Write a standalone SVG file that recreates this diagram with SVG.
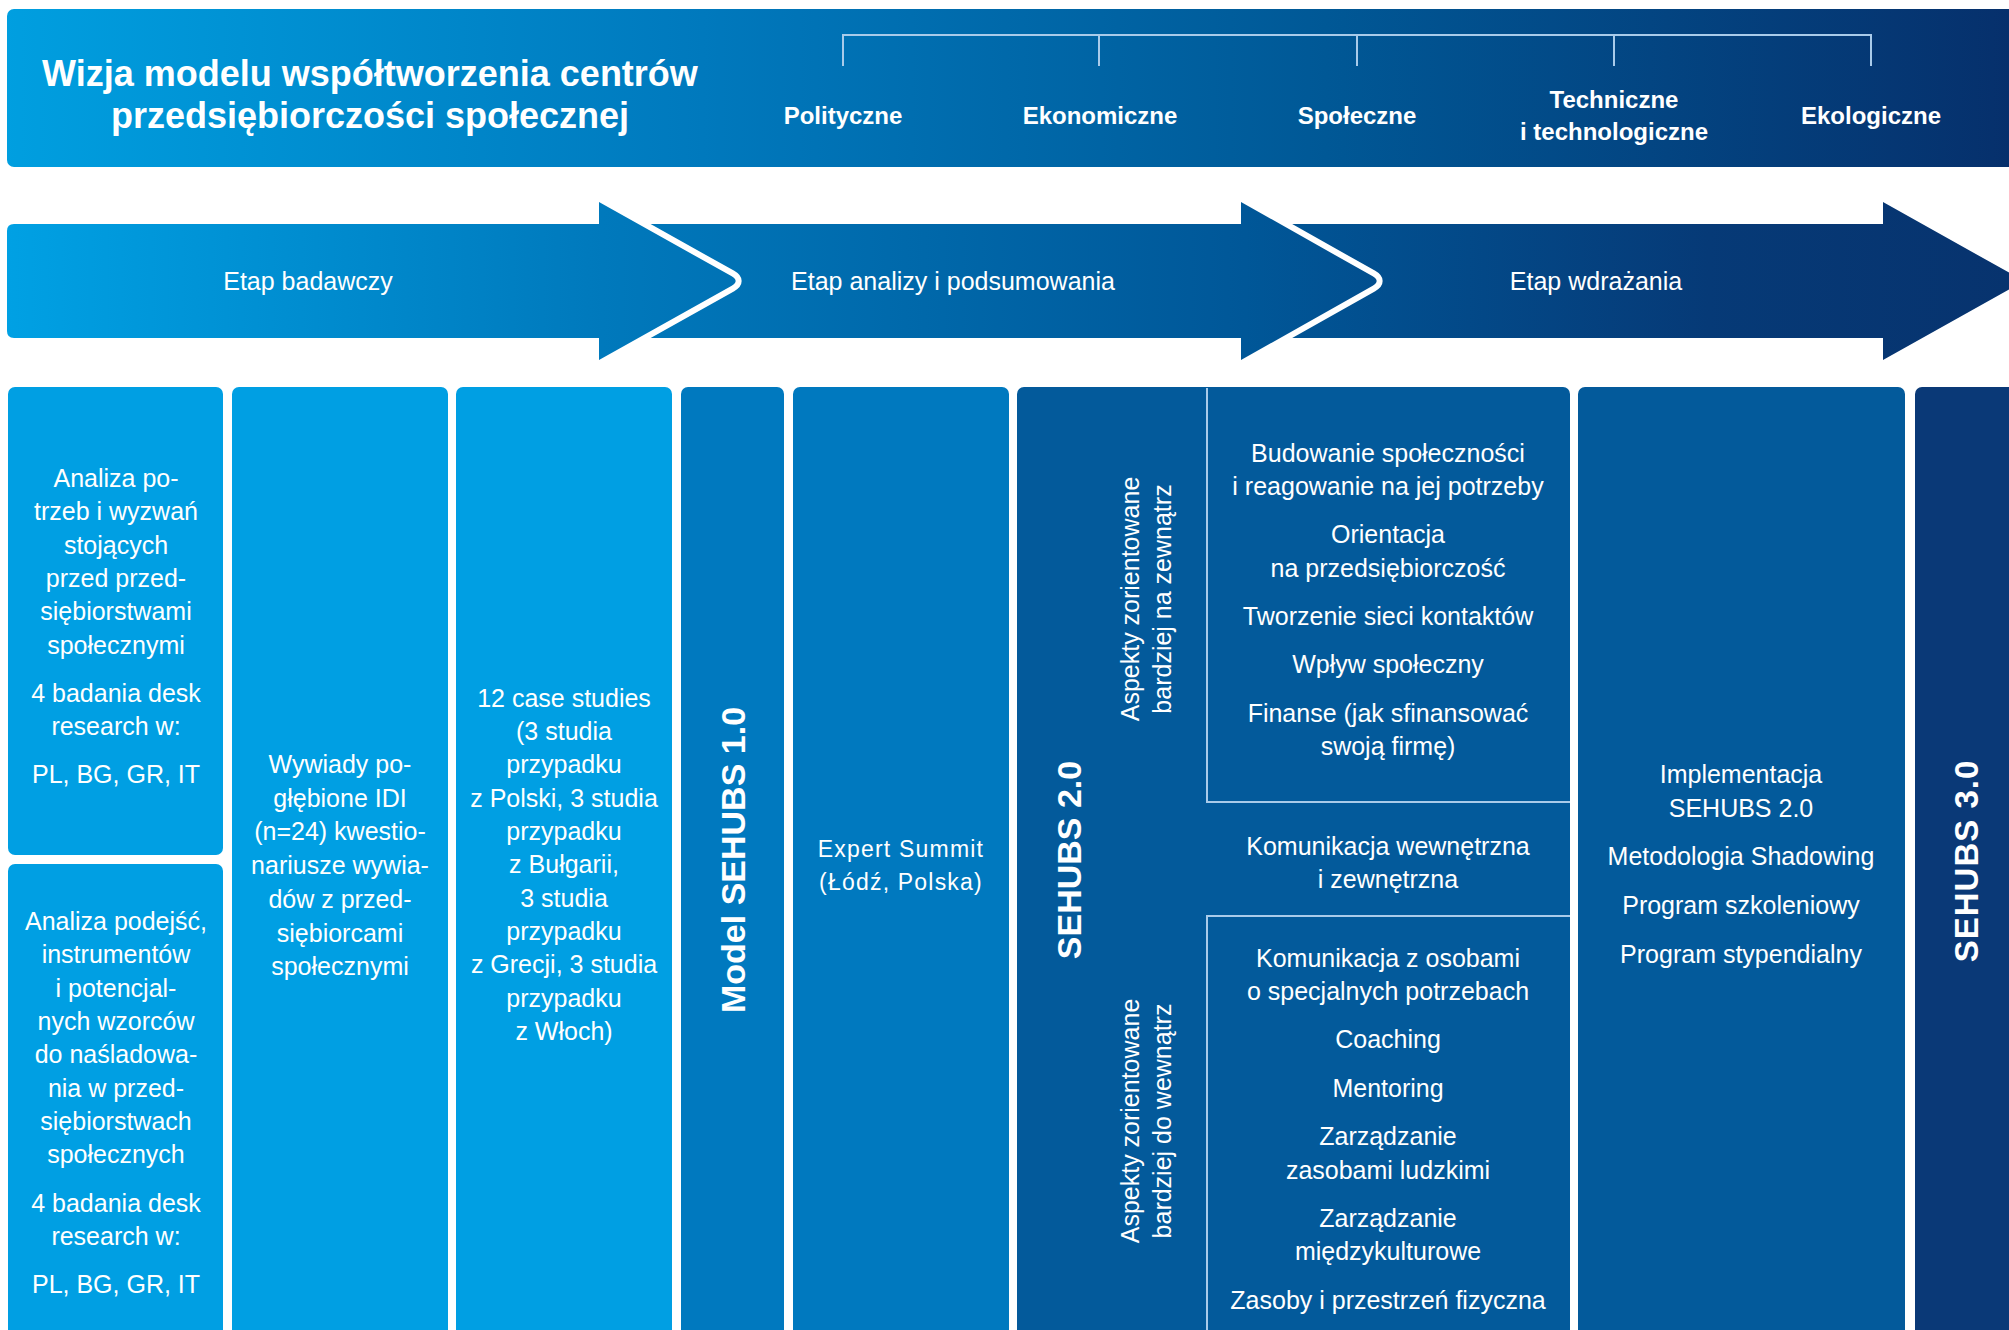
<svg xmlns="http://www.w3.org/2000/svg" width="2009" height="1330" viewBox="0 0 2009 1330">
<defs>
<linearGradient id="gHead" gradientUnits="userSpaceOnUse" x1="0" y1="0" x2="2009" y2="0">
<stop offset="0" stop-color="#009fe0"/>
<stop offset="0.35" stop-color="#0079bd"/>
<stop offset="0.66" stop-color="#005896"/>
<stop offset="1" stop-color="#06306c"/>
</linearGradient>
<linearGradient id="gArrow" gradientUnits="userSpaceOnUse" x1="0" y1="0" x2="2009" y2="0">
<stop offset="0" stop-color="#00a1e4"/>
<stop offset="0.3" stop-color="#0079bc"/>
<stop offset="0.62" stop-color="#005798"/>
<stop offset="0.85" stop-color="#063a77"/>
<stop offset="1" stop-color="#07336e"/>
</linearGradient>
<style>
text{fill:#fff;font-family:"Liberation Sans",Arial,sans-serif;}
.t{font-size:25px;text-anchor:middle;}
.h{font-size:24px;font-weight:bold;text-anchor:middle;}
.ttl{font-size:36px;font-weight:bold;text-anchor:middle;}
.v{font-size:34px;font-weight:bold;text-anchor:middle;}
.g{font-size:23px;letter-spacing:1.2px;text-anchor:middle;}
.g3{font-size:33px;font-weight:bold;letter-spacing:1px;text-anchor:middle;}
.light{fill:#009fe3;}
.mid{fill:#0079bf;}
.dark{fill:#035a9b;}
.navy{fill:#0a3977;}
.ln{stroke:#a9cbea;stroke-width:2;fill:none;}
.arrow{fill:url(#gArrow);}
.halo{fill:#fff;stroke:#fff;stroke-width:12;stroke-linejoin:round;}
</style>
</defs>

<g id="header">
<rect x="7" y="9" width="2030" height="158" rx="7" fill="url(#gHead)"/>
<text class="ttl" x="370" y="86">Wizja modelu współtworzenia centrów</text>
<text class="ttl" x="370" y="128">przedsiębiorczości społecznej</text>
</g>

<g id="factors">
<path class="ln" d="M843,66 V35 H1871 V66 M1099,35 V66 M1357,35 V66 M1614,35 V66"/>
<text class="h" x="843" y="124">Polityczne</text>
<text class="h" x="1100" y="124">Ekonomiczne</text>
<text class="h" x="1357" y="124">Społeczne</text>
<text class="h" x="1614" y="108">Techniczne</text>
<text class="h" x="1614" y="140">i technologiczne</text>
<text class="h" x="1871" y="124">Ekologiczne</text>
</g>

<g id="phase3">
<path class="arrow" d="M1260,224 H1883 V202 L2024,281 L1883,360 V338 H1260 Z"/>
<text class="t" x="1596" y="290">Etap wdrażania</text>
</g>
<g id="phase2">
<path class="halo" d="M620,224 H1241 V202 L1372.3,276.1 Q1381,281 1372.3,285.9 L1241,360 V338 H620 Z"/>
<path class="arrow" d="M620,224 H1241 V202 L1372.3,276.1 Q1381,281 1372.3,285.9 L1241,360 V338 H620 Z"/>
<text class="t" x="953" y="290">Etap analizy i podsumowania</text>
</g>
<g id="phase1">
<path class="halo" d="M14,224 H599 V202 L731.3,276.1 Q740,281 731.3,285.9 L599,360 V338 H14 Q7,338 7,331 V231 Q7,224 14,224 Z"/>
<path class="arrow" d="M14,224 H599 V202 L731.3,276.1 Q740,281 731.3,285.9 L599,360 V338 H14 Q7,338 7,331 V231 Q7,224 14,224 Z"/>
<text class="t" x="308" y="290">Etap badawczy</text>
</g>

<g id="col1a">
<rect class="light" x="8" y="387" width="215" height="468" rx="7"/>
<text class="t" x="116" y="487">Analiza po-</text>
<text class="t" x="116" y="520">trzeb i wyzwań</text>
<text class="t" x="116" y="554">stojących</text>
<text class="t" x="116" y="587">przed przed-</text>
<text class="t" x="116" y="620">siębiorstwami</text>
<text class="t" x="116" y="654">społecznymi</text>
<text class="t" x="116" y="702">4 badania desk</text>
<text class="t" x="116" y="735">research w:</text>
<text class="t" x="116" y="783">PL, BG, GR, IT</text>
</g>

<g id="col1b">
<rect class="light" x="8" y="864" width="215" height="490" rx="7"/>
<text class="t" x="116" y="930">Analiza podejść,</text>
<text class="t" x="116" y="963">instrumentów</text>
<text class="t" x="116" y="997">i potencjal-</text>
<text class="t" x="116" y="1030">nych wzorców</text>
<text class="t" x="116" y="1063">do naśladowa-</text>
<text class="t" x="116" y="1097">nia w przed-</text>
<text class="t" x="116" y="1130">siębiorstwach</text>
<text class="t" x="116" y="1163">społecznych</text>
<text class="t" x="116" y="1212">4 badania desk</text>
<text class="t" x="116" y="1245">research w:</text>
<text class="t" x="116" y="1293">PL, BG, GR, IT</text>
</g>

<g id="col2">
<rect class="light" x="232" y="387" width="216" height="970" rx="7"/>
<text class="t" x="340" y="773">Wywiady po-</text>
<text class="t" x="340" y="807">głębione IDI</text>
<text class="t" x="340" y="840">(n=24) kwestio-</text>
<text class="t" x="340" y="874">nariusze wywia-</text>
<text class="t" x="340" y="908">dów z przed-</text>
<text class="t" x="340" y="942">siębiorcami</text>
<text class="t" x="340" y="975">społecznymi</text>
</g>

<g id="col3">
<rect class="light" x="456" y="387" width="216" height="970" rx="7"/>
<text class="t" x="564" y="707">12 case studies</text>
<text class="t" x="564" y="740">(3 studia</text>
<text class="t" x="564" y="773">przypadku</text>
<text class="t" x="564" y="807">z Polski, 3 studia</text>
<text class="t" x="564" y="840">przypadku</text>
<text class="t" x="564" y="873">z Bułgarii,</text>
<text class="t" x="564" y="907">3 studia</text>
<text class="t" x="564" y="940">przypadku</text>
<text class="t" x="564" y="973">z Grecji, 3 studia</text>
<text class="t" x="564" y="1007">przypadku</text>
<text class="t" x="564" y="1040">z Włoch)</text>
</g>

<g id="col4">
<rect class="mid" x="681" y="387" width="103" height="970" rx="7"/>
<text class="v" transform="translate(745,860) rotate(-90)">Model SEHUBS 1.0</text>
</g>

<g id="col5">
<rect class="mid" x="793" y="387" width="216" height="970" rx="7"/>
<text class="g" x="901" y="857">Expert Summit</text>
<text class="g" x="901" y="890">(Łódź, Polska)</text>
</g>

<g id="col6">
<rect class="dark" x="1017" y="387" width="553" height="970" rx="7"/>
<text class="v" transform="translate(1081,860) rotate(-90)">SEHUBS 2.0</text>
<text class="t" transform="translate(1139,599) rotate(-90)">Aspekty zorientowane</text>
<text class="t" transform="translate(1171,599) rotate(-90)">bardziej na zewnątrz</text>
<text class="t" transform="translate(1139,1121) rotate(-90)">Aspekty zorientowane</text>
<text class="t" transform="translate(1171,1121) rotate(-90)">bardziej do wewnątrz</text>
<path class="ln" d="M1207,388 V802 H1570 M1570,916 H1207 V1330"/>
<text class="t" x="1388" y="462">Budowanie społeczności</text>
<text class="t" x="1388" y="495">i reagowanie na jej potrzeby</text>
<text class="t" x="1388" y="543">Orientacja</text>
<text class="t" x="1388" y="577">na przedsiębiorczość</text>
<text class="t" x="1388" y="625">Tworzenie sieci kontaktów</text>
<text class="t" x="1388" y="673">Wpływ społeczny</text>
<text class="t" x="1388" y="722">Finanse (jak sfinansować</text>
<text class="t" x="1388" y="755">swoją firmę)</text>
<text class="t" x="1388" y="855">Komunikacja wewnętrzna</text>
<text class="t" x="1388" y="888">i zewnętrzna</text>
<text class="t" x="1388" y="967">Komunikacja z osobami</text>
<text class="t" x="1388" y="1000">o specjalnych potrzebach</text>
<text class="t" x="1388" y="1048">Coaching</text>
<text class="t" x="1388" y="1097">Mentoring</text>
<text class="t" x="1388" y="1145">Zarządzanie</text>
<text class="t" x="1388" y="1179">zasobami ludzkimi</text>
<text class="t" x="1388" y="1227">Zarządzanie</text>
<text class="t" x="1388" y="1260">międzykulturowe</text>
<text class="t" x="1388" y="1309">Zasoby i przestrzeń fizyczna</text>
</g>

<g id="col7">
<rect class="dark" x="1578" y="387" width="327" height="970" rx="7"/>
<text class="t" x="1741" y="783">Implementacja</text>
<text class="t" x="1741" y="817">SEHUBS 2.0</text>
<text class="t" x="1741" y="865">Metodologia Shadowing</text>
<text class="t" x="1741" y="914">Program szkoleniowy</text>
<text class="t" x="1741" y="963">Program stypendialny</text>
</g>

<g id="col8">
<rect class="navy" x="1915" y="387" width="120" height="970" rx="7"/>
<text class="g3" transform="translate(1978,861) rotate(-90)">SEHUBS 3.0</text>
</g>
</svg>
